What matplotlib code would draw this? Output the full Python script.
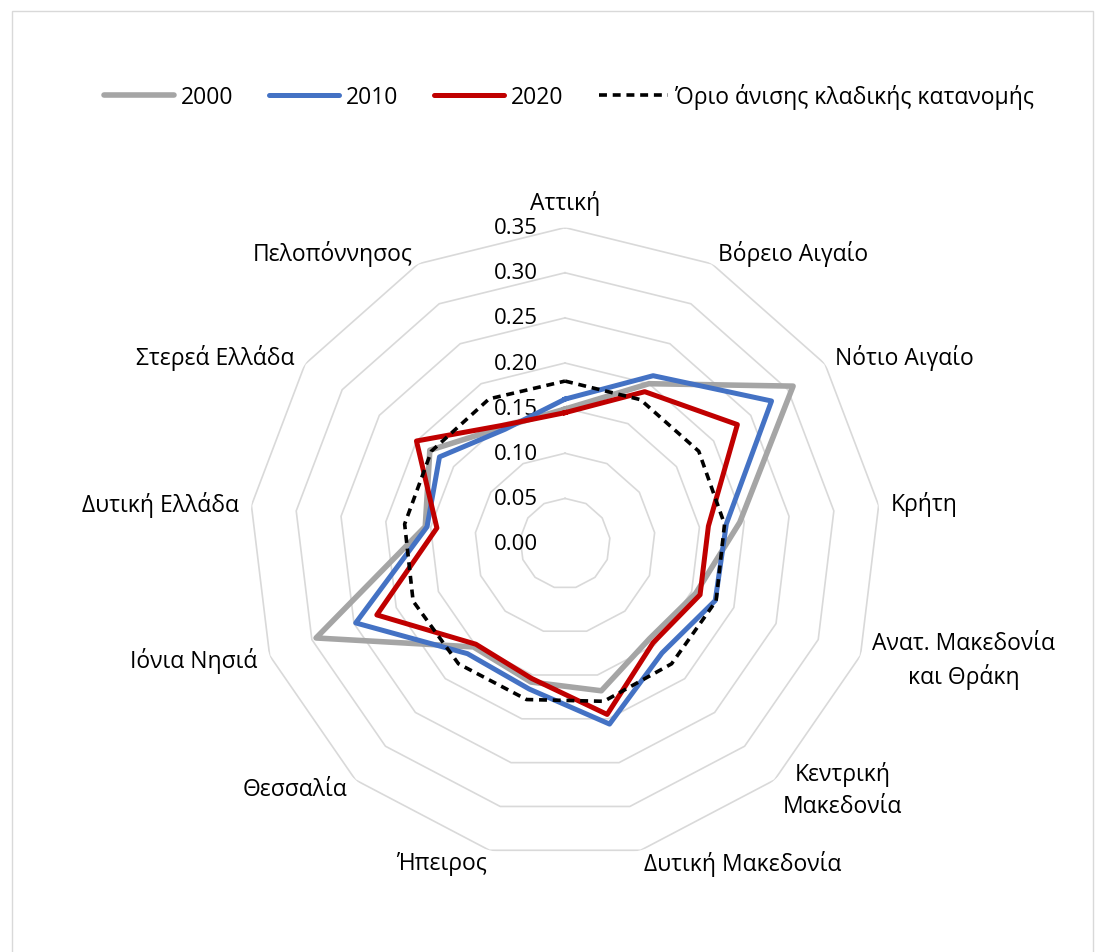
import numpy as np
import matplotlib
matplotlib.use('Agg')
import matplotlib.pyplot as plt
from matplotlib.transforms import ScaledTranslation
from matplotlib.patches import Rectangle
from matplotlib.lines import Line2D

plt.rcParams['font.family'] = ['Open Sans', 'DejaVu Sans']

# data
regions = ['Αττική', 'Βόρειο Αιγαίο', 'Νότιο Αιγαίο', 'Κρήτη',
           'Ανατ. Μακεδονία\nκαι Θράκη', 'Κεντρική\nΜακεδονία',
           'Δυτική Μακεδονία', 'Ήπειρος', 'Θεσσαλία', 'Ιόνια Νησιά',
           'Δυτική Ελλάδα', 'Στερεά Ελλάδα', 'Πελοπόννησος']
y2000 = [0.149, 0.200, 0.307, 0.195, 0.155, 0.141, 0.168, 0.158, 0.153, 0.295, 0.156, 0.182, 0.146]
y2010 = [0.160, 0.210, 0.278, 0.180, 0.178, 0.162, 0.206, 0.166, 0.163, 0.248, 0.154, 0.169, 0.143]
y2020 = [0.145, 0.190, 0.232, 0.160, 0.160, 0.147, 0.195, 0.154, 0.149, 0.223, 0.143, 0.200, 0.148]
threshold = [0.180, 0.180, 0.180, 0.178, 0.179, 0.178, 0.180, 0.178, 0.178, 0.180, 0.179, 0.180, 0.181]
levels = [0.00, 0.05, 0.10, 0.15, 0.20, 0.25, 0.30, 0.35]

n = len(regions)
theta = np.arange(n) * 2 * np.pi / n
theta_c = np.append(theta, theta[0])

def closed(v):
    return np.append(v, v[0])

fig = plt.figure(figsize=(11.01, 9.53), dpi=100)
ax = fig.add_axes([0.2262, 0.0971, 0.574, 0.663], projection='polar')
ax.set_theta_zero_location('N')
ax.set_theta_direction(-1)
ax.set_ylim(0, 0.35)
ax.grid(False)
ax.spines['polar'].set_visible(False)
ax.set_xticks([])
ax.set_yticks([])
ax.patch.set_visible(False)

# polygon grid
for lv in levels[1:]:
    ax.plot(theta_c, [lv] * (n + 1), color='#d9d9d9', lw=1.2, zorder=1)

ax.plot(theta_c, closed(y2000), color='#A5A5A5', lw=4.0, zorder=3)
ax.plot(theta_c, closed(y2010), color='#4472C4', lw=3.6, zorder=4)
ax.plot(theta_c, closed(y2020), color='#C00000', lw=3.6, zorder=5)
ax.plot(theta_c, closed(threshold), color='black', lw=2.6, ls=(0, (2.2, 1.6)), zorder=6)

# radial labels
off = ax.transData + ScaledTranslation(-0.27, 0, fig.dpi_scale_trans)
for lv in levels:
    ax.text(0, lv, f'{lv:.2f}', transform=off, ha='right', va='center',
            fontsize=16, color='#000000')

# category labels
for t, name in zip(theta, regions):
    s = np.sin(t)
    if abs(s) < 1e-6:
        ha, va = 'center', 'bottom'
    elif s > 0:
        ha, va = 'left', 'center'
    else:
        ha, va = 'right', 'center'
    ax.text(t, 0.364, name, ha=ha, va=va, fontsize=16.5, multialignment='center',
            linespacing=1.4, clip_on=False)

handles = [Line2D([], [], color='#A5A5A5', lw=4.0, solid_capstyle='round'),
           Line2D([], [], color='#4472C4', lw=3.6, solid_capstyle='round'),
           Line2D([], [], color='#C00000', lw=3.6, solid_capstyle='round'),
           Line2D([], [], color='black', lw=2.6, ls=(0, (2.2, 1.6)))]
fig.legend(handles, ['2000', '2010', '2020', 'Όριο άνισης κλαδικής κατανομής'],
           loc='center', bbox_to_anchor=(0.517, 1 - 97 / 953), ncol=4,
           frameon=False, fontsize=16.5, handlelength=3.05, handletextpad=0.3,
           columnspacing=1.55)

fig.patches.append(Rectangle((12 / 1101, -0.01), (1093 - 12) / 1101, 1.01 - 12 / 953,
                             transform=fig.transFigure, fill=False,
                             edgecolor='#d9d9d9', lw=1))

fig.savefig('out.png', dpi=100)
